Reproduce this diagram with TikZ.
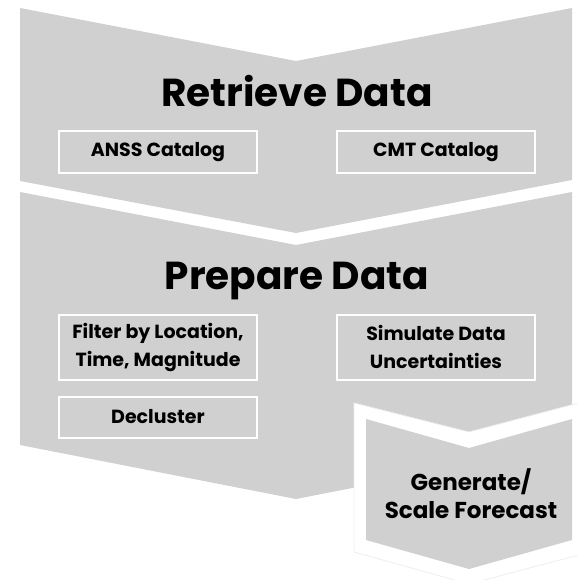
\documentclass[tikz,border=0pt]{standalone}
\usepackage{fontspec}
\setmainfont{Poppins}
\usepackage{tikz}
\usetikzlibrary{positioning}
\usepackage{xcolor}
\definecolor{clrstage}{RGB}{208,208,208}
\definecolor{clredge}{RGB}{238,238,238}

\begin{document}
\begin{tikzpicture}[
    x=1pt, y=-1pt,
    stage/.style={fill=clrstage},
    title/.style={font=\fontsize{39}{44}\selectfont\bfseries, anchor=base},
    task/.style={draw=white, line width=2pt, minimum width=198pt,
                 align=center, inner sep=0pt,
                 font=\fontsize{19}{28}\selectfont\bfseries},
    gen/.style={align=center, font=\fontsize{23}{28}\selectfont\bfseries},
  ]
    \useasboundingbox (0,0) rectangle (577,580);
    \clip (0,0) rectangle (577,580);

    % stages
    \fill[stage] (20,8) -- (296,61) -- (572,8) -- (572,180) -- (296,233) -- (20,181) -- cycle;
    \fill[stage] (20,192) -- (296,245) -- (572,192) -- (572,445) -- (296,499) -- (20,445) -- cycle;
    \filldraw[fill=white, draw=clredge, line width=0.8pt]
      (354,403) -- (469,432) -- (590,400) -- (590,552) -- (469,584) -- (354,552) -- cycle;
    \fill[stage] (366,419) -- (469,448) -- (572,419) -- (572,540) -- (469,569) -- (366,540) -- cycle;

    \node[title] (retr) at (297,107) {Retrieve Data};
    \node[task, minimum height=42pt] (anss) at (158,152) {ANSS Catalog};
    \node[task, minimum height=42pt] (cmt)  at (436,152) {CMT Catalog};

    \node[title] (prep) at (297,289) {Prepare Data};
    \node[task, minimum height=65pt] (filt) at (158,347) {Filter by Location,\\Time, Magnitude};
    \node[task, minimum height=65pt] (simu) at (436,347) {Simulate Data\\Uncertainties};
    \node[task, minimum height=41pt] (decl) at (158,417) {Decluster};

    \node[gen] (fcst) at (471,494) {Generate/\\Scale Forecast};
  \end{tikzpicture}
\end{document}
